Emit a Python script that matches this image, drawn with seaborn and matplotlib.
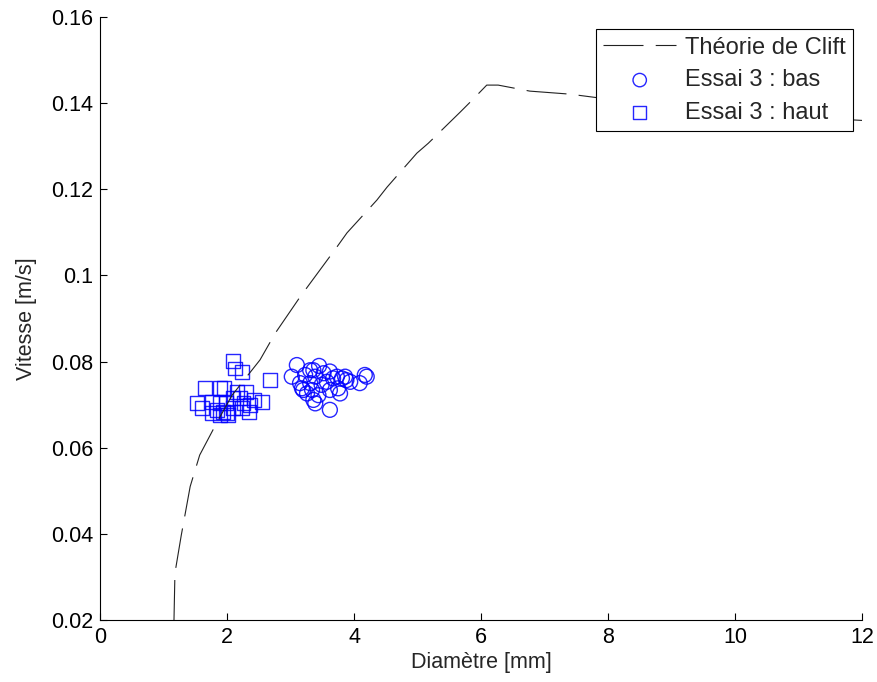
import numpy as np
import pandas as pd
import matplotlib
matplotlib.use("Agg")
import matplotlib.pyplot as plt
import seaborn as sns

# Clift theory curve
clift_d = [1.165, 1.18, 1.28, 1.42, 1.57, 1.86, 2.08, 2.52, 2.76, 3.15, 3.31, 3.73, 3.89,
           4.36, 4.52, 4.99, 5.17, 5.67, 5.86, 6.09, 6.27, 6.77, 7.40, 7.87, 9.0, 10.0, 11.0, 12.0]
clift_v = [0.0200, 0.0309, 0.0397, 0.0510, 0.0583, 0.0664, 0.0722, 0.0804, 0.0866, 0.0950,
           0.0982, 0.1066, 0.1099, 0.1175, 0.1205, 0.1284, 0.1307, 0.1379, 0.1407, 0.1442,
           0.1442, 0.1428, 0.1421, 0.1412, 0.1392, 0.1378, 0.1368, 0.1360]

# Essai 3 : bas (circles)
bas_d = [3.10, 3.02, 3.45, 3.36, 3.23, 3.15, 3.18, 3.31, 3.34, 3.26, 3.39, 3.52, 3.62, 3.67,
         3.57, 3.49, 3.44, 3.62, 3.75, 3.81, 3.88, 3.86, 3.73, 4.09, 4.17, 4.20, 3.36, 3.39,
         3.62, 3.78, 3.94, 3.20, 3.31]
bas_v = [0.0792, 0.0765, 0.0790, 0.0780, 0.0769, 0.0750, 0.0738, 0.0750, 0.0734, 0.0726,
         0.0765, 0.0773, 0.0777, 0.0761, 0.0753, 0.0746, 0.0722, 0.0734, 0.0738, 0.0761,
         0.0757, 0.0765, 0.0765, 0.0750, 0.0769, 0.0765, 0.0711, 0.0703, 0.0688, 0.0726,
         0.0753, 0.0734, 0.0780]

# Essai 3 : haut (squares)
haut_d = [2.10, 2.13, 2.24, 2.68, 1.66, 1.89, 1.95, 2.16, 2.30, 1.53, 1.61, 1.77, 1.89, 1.98,
          2.10, 2.20, 2.43, 2.55, 1.84, 1.94, 2.00, 2.10, 2.23, 2.35, 1.89, 2.02, 2.26, 2.36, 1.76]
haut_v = [0.0801, 0.0784, 0.0776, 0.0757, 0.0739, 0.0739, 0.0739, 0.0730, 0.0730, 0.0703,
          0.0692, 0.0707, 0.0703, 0.0703, 0.0715, 0.0715, 0.0711, 0.0707, 0.0688, 0.0684,
          0.0680, 0.0692, 0.0692, 0.0684, 0.0676, 0.0676, 0.0703, 0.0699, 0.0680]

sns.set_style("ticks")
plt.rcParams['font.family'] = ['Liberation Sans', 'DejaVu Sans']
plt.rcParams['xtick.direction'] = 'in'
plt.rcParams['ytick.direction'] = 'in'

fig = plt.figure(figsize=(8.78, 6.82), dpi=100)
ax = fig.add_axes([0.1139, 0.0909, 0.8679, 0.8841])

sns.lineplot(x=clift_d, y=clift_v, ax=ax, color='#222222', lw=0.8,
             label='Théorie de Clift', sort=False)
ax.lines[0].set_dashes((36, 11))

sns.scatterplot(x=bas_d, y=bas_v, ax=ax, marker='o', s=115, facecolor='none',
                edgecolor='blue', linewidth=1.0, alpha=0.85, label='Essai 3 : bas')
sns.scatterplot(x=haut_d, y=haut_v, ax=ax, marker='s', s=100, facecolor='none',
                edgecolor='blue', linewidth=1.0, alpha=0.85, label='Essai 3 : haut')

ax.set_xlim(0, 12)
ax.set_ylim(0.02, 0.16)
ax.set_xticks([0, 2, 4, 6, 8, 10, 12])
ax.set_yticks([0.02, 0.04, 0.06, 0.08, 0.1, 0.12, 0.14, 0.16])
ax.set_yticklabels(['0.02', '0.04', '0.06', '0.08', '0.1', '0.12', '0.14', '0.16'])
ax.tick_params(labelsize=15.5, length=5, width=0.8, colors='black', pad=5)
ax.set_xlabel('Diamètre [mm]', fontsize=15.5, labelpad=3)
ax.set_ylabel('Vitesse [m/s]', fontsize=15.5, labelpad=10)
sns.despine(ax=ax)
for sp in ['left', 'bottom']:
    ax.spines[sp].set_linewidth(0.8)
    ax.spines[sp].set_color('black')

leg = ax.legend(loc='upper right', bbox_to_anchor=(0.988, 0.98), borderaxespad=0,
                fontsize=17, frameon=True, fancybox=False, edgecolor='black',
                framealpha=1, handlelength=3.1, handletextpad=0.35, markerscale=0.9,
                borderpad=0.32, labelspacing=0.45)
leg.get_frame().set_linewidth(0.8)

fig.savefig('out.png', dpi=100)
